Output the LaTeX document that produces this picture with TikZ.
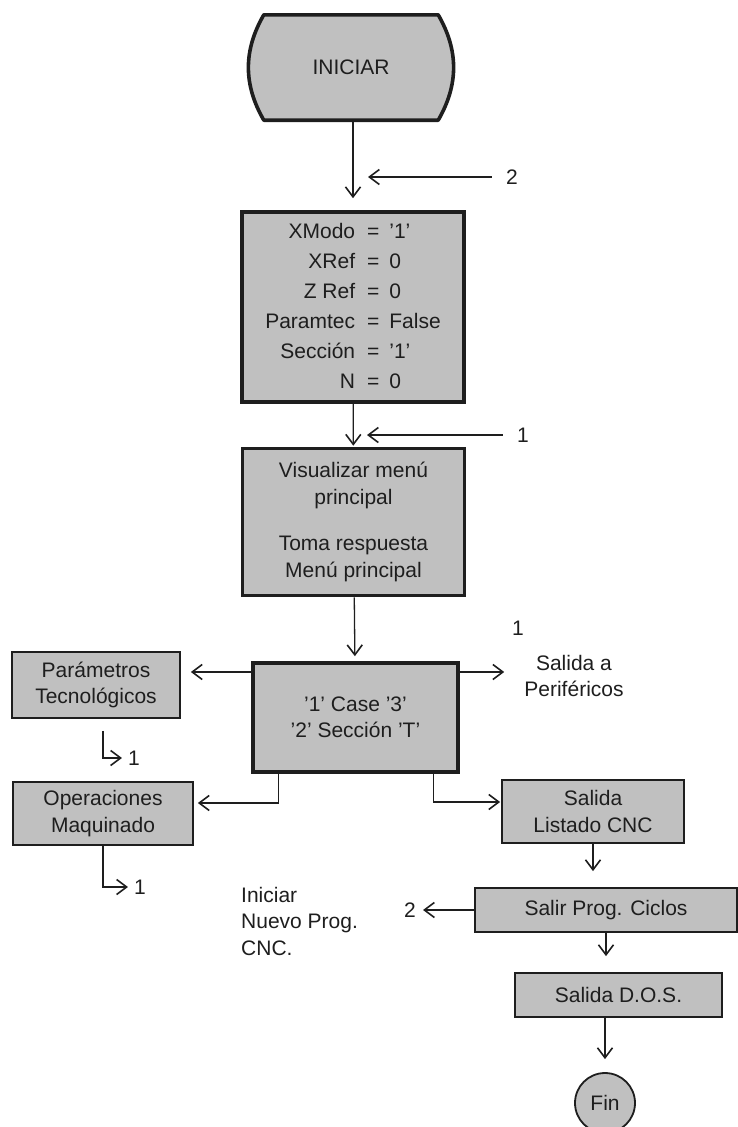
\documentclass[tikz,border=0pt]{standalone}
\usepackage{fontspec}
\setmainfont{Liberation Sans}
\usepackage{tikz}
\usetikzlibrary{arrows.meta,positioning,calc,backgrounds}
\definecolor{fcGray}{RGB}{192,192,192}
\definecolor{fcInk}{RGB}{30,30,30}

\begin{document}
\begin{tikzpicture}[
  x=1pt, y=-1pt,
  font=\fontsize{21}{26.5}\selectfont, text=fcInk,
  box/.style={draw=fcInk, fill=fcGray, line width=1.8pt, align=center, inner sep=0pt},
  mainbox/.style={box, line width=3.6pt},
  arr/.style={-{Straight Barb[length=10pt,width=15pt,line width=1.6pt]}, draw=fcInk, line width=1.3pt},
  lbl/.style={inner sep=0pt, align=center}
]
\useasboundingbox (0,0) rectangle (738,1127);

% Main column
\node[lbl, minimum width=174pt, minimum height=105pt] (ini) at (351,67.5) {INICIAR};
\node[mainbox, minimum width=222pt, minimum height=190pt,
      font=\fontsize{21}{30}\selectfont] (xmodo) at (353,307) {%
  \begin{tabular}{@{}r@{\hspace{12pt}}c@{\hspace{10pt}}l@{}}
    XModo & = & '1'\\
    XRef & = & 0\\
    Z Ref & = & 0\\
    Paramtec & = & False\\
    Sección & = & '1'\\
    N & = & 0
  \end{tabular}};
\node[mainbox, minimum width=222pt, minimum height=147pt] (vis) at (353.5,522)
  {Visualizar menú\\principal\\[20pt]Toma respuesta\\Menú principal};
\node[mainbox, minimum width=205pt, minimum height=109pt] (case) at (355.5,717.5)
  {'1' Case '3'\\'2' Sección 'T'};

% Terminal outline
\begin{scope}[on background layer]
  \draw[draw=fcInk, fill=fcGray, line width=3.6pt, line join=round]
    (ini.north west) to[bend right=30] (ini.south west) -- (ini.south east)
    to[bend right=30] (ini.north east) -- cycle;
\end{scope}

% Branches
\node[box, minimum width=168pt, minimum height=66pt] (par) at (96,685) {Parámetros\\Tecnológicos};
\node[box, minimum width=180pt, minimum height=63pt] (ope) at (103,813.5) {Operaciones\\Maquinado};
\node[box, minimum width=182pt, minimum height=63pt] (lis) at (593,811.5) {Salida\\Listado CNC};
\node[box, minimum width=262pt, minimum height=44pt] (sal) at (606,910) {Salir Prog. Ciclos};
\node[box, minimum width=207pt, minimum height=44pt] (dos) at (618.5,995) {Salida D.O.S.};
\node[box, circle, minimum size=60pt] (fin) at (605,1103) {Fin};

% Labels
\node[lbl] (l2a) at (512,177) {2};
\node[lbl] (l1a) at (523,435) {1};
\node[lbl] (l1b) at (518,628) {1};
\node[lbl] (per) at (574,676) {Salida a\\Periféricos};
\node[lbl] (l1c) at (134,758) {1};
\node[lbl] (l1d) at (140,887) {1};
\node[lbl] (l2b) at (410,910) {2};
\node[lbl, align=left, anchor=west] (nue) at (241,921) {Iniciar\\Nuevo Prog.\\CNC.};
\coordinate (in2) at (368,177);
\coordinate (in1) at (367,435);

% Arrows
\draw[arr, shorten >=12pt] (ini.south -| xmodo.north) -- (xmodo.north);
\draw[arr, shorten <=14pt] (l2a) -- (in2);
\draw[arr, shorten >=1pt] (xmodo) -- (vis);
\draw[arr, shorten <=14pt] (l1a) -- (in1);
\draw[arr, shorten >=5pt] (vis) -- (case);
\draw[arr, shorten >=10pt] ([yshift=45.5pt]case.west) -- ([yshift=45.5pt]case.west -| par.east);
\draw[arr, shorten >=20pt] ([yshift=45.5pt]case.east) -- ([yshift=45.5pt]case.east -| per.west);
\draw[arr, shorten >=4pt] ([xshift=27pt]case.south west) |- ([yshift=10.5pt]ope.east);
\draw[arr, shorten >=1pt] ([xshift=-26pt]case.south east) |- ([yshift=9.5pt]lis.west);
\draw[arr, shorten <=12pt, shorten >=6pt] ([xshift=7pt]par.south) |- (l1c.west);
\draw[arr, shorten >=6pt] (ope.south) |- (l1d.west);
\draw[arr, shorten >=16pt] (lis.south) -- (lis.south |- sal.north);
\draw[arr, shorten >=7pt] (sal.west) -- (l2b.east);
\draw[arr, shorten >=16pt] (sal.south) -- (sal.south |- dos.north);
\draw[arr, shorten >=13pt] (fin.north |- dos.south) -- (fin.north);

\end{tikzpicture}
\end{document}
